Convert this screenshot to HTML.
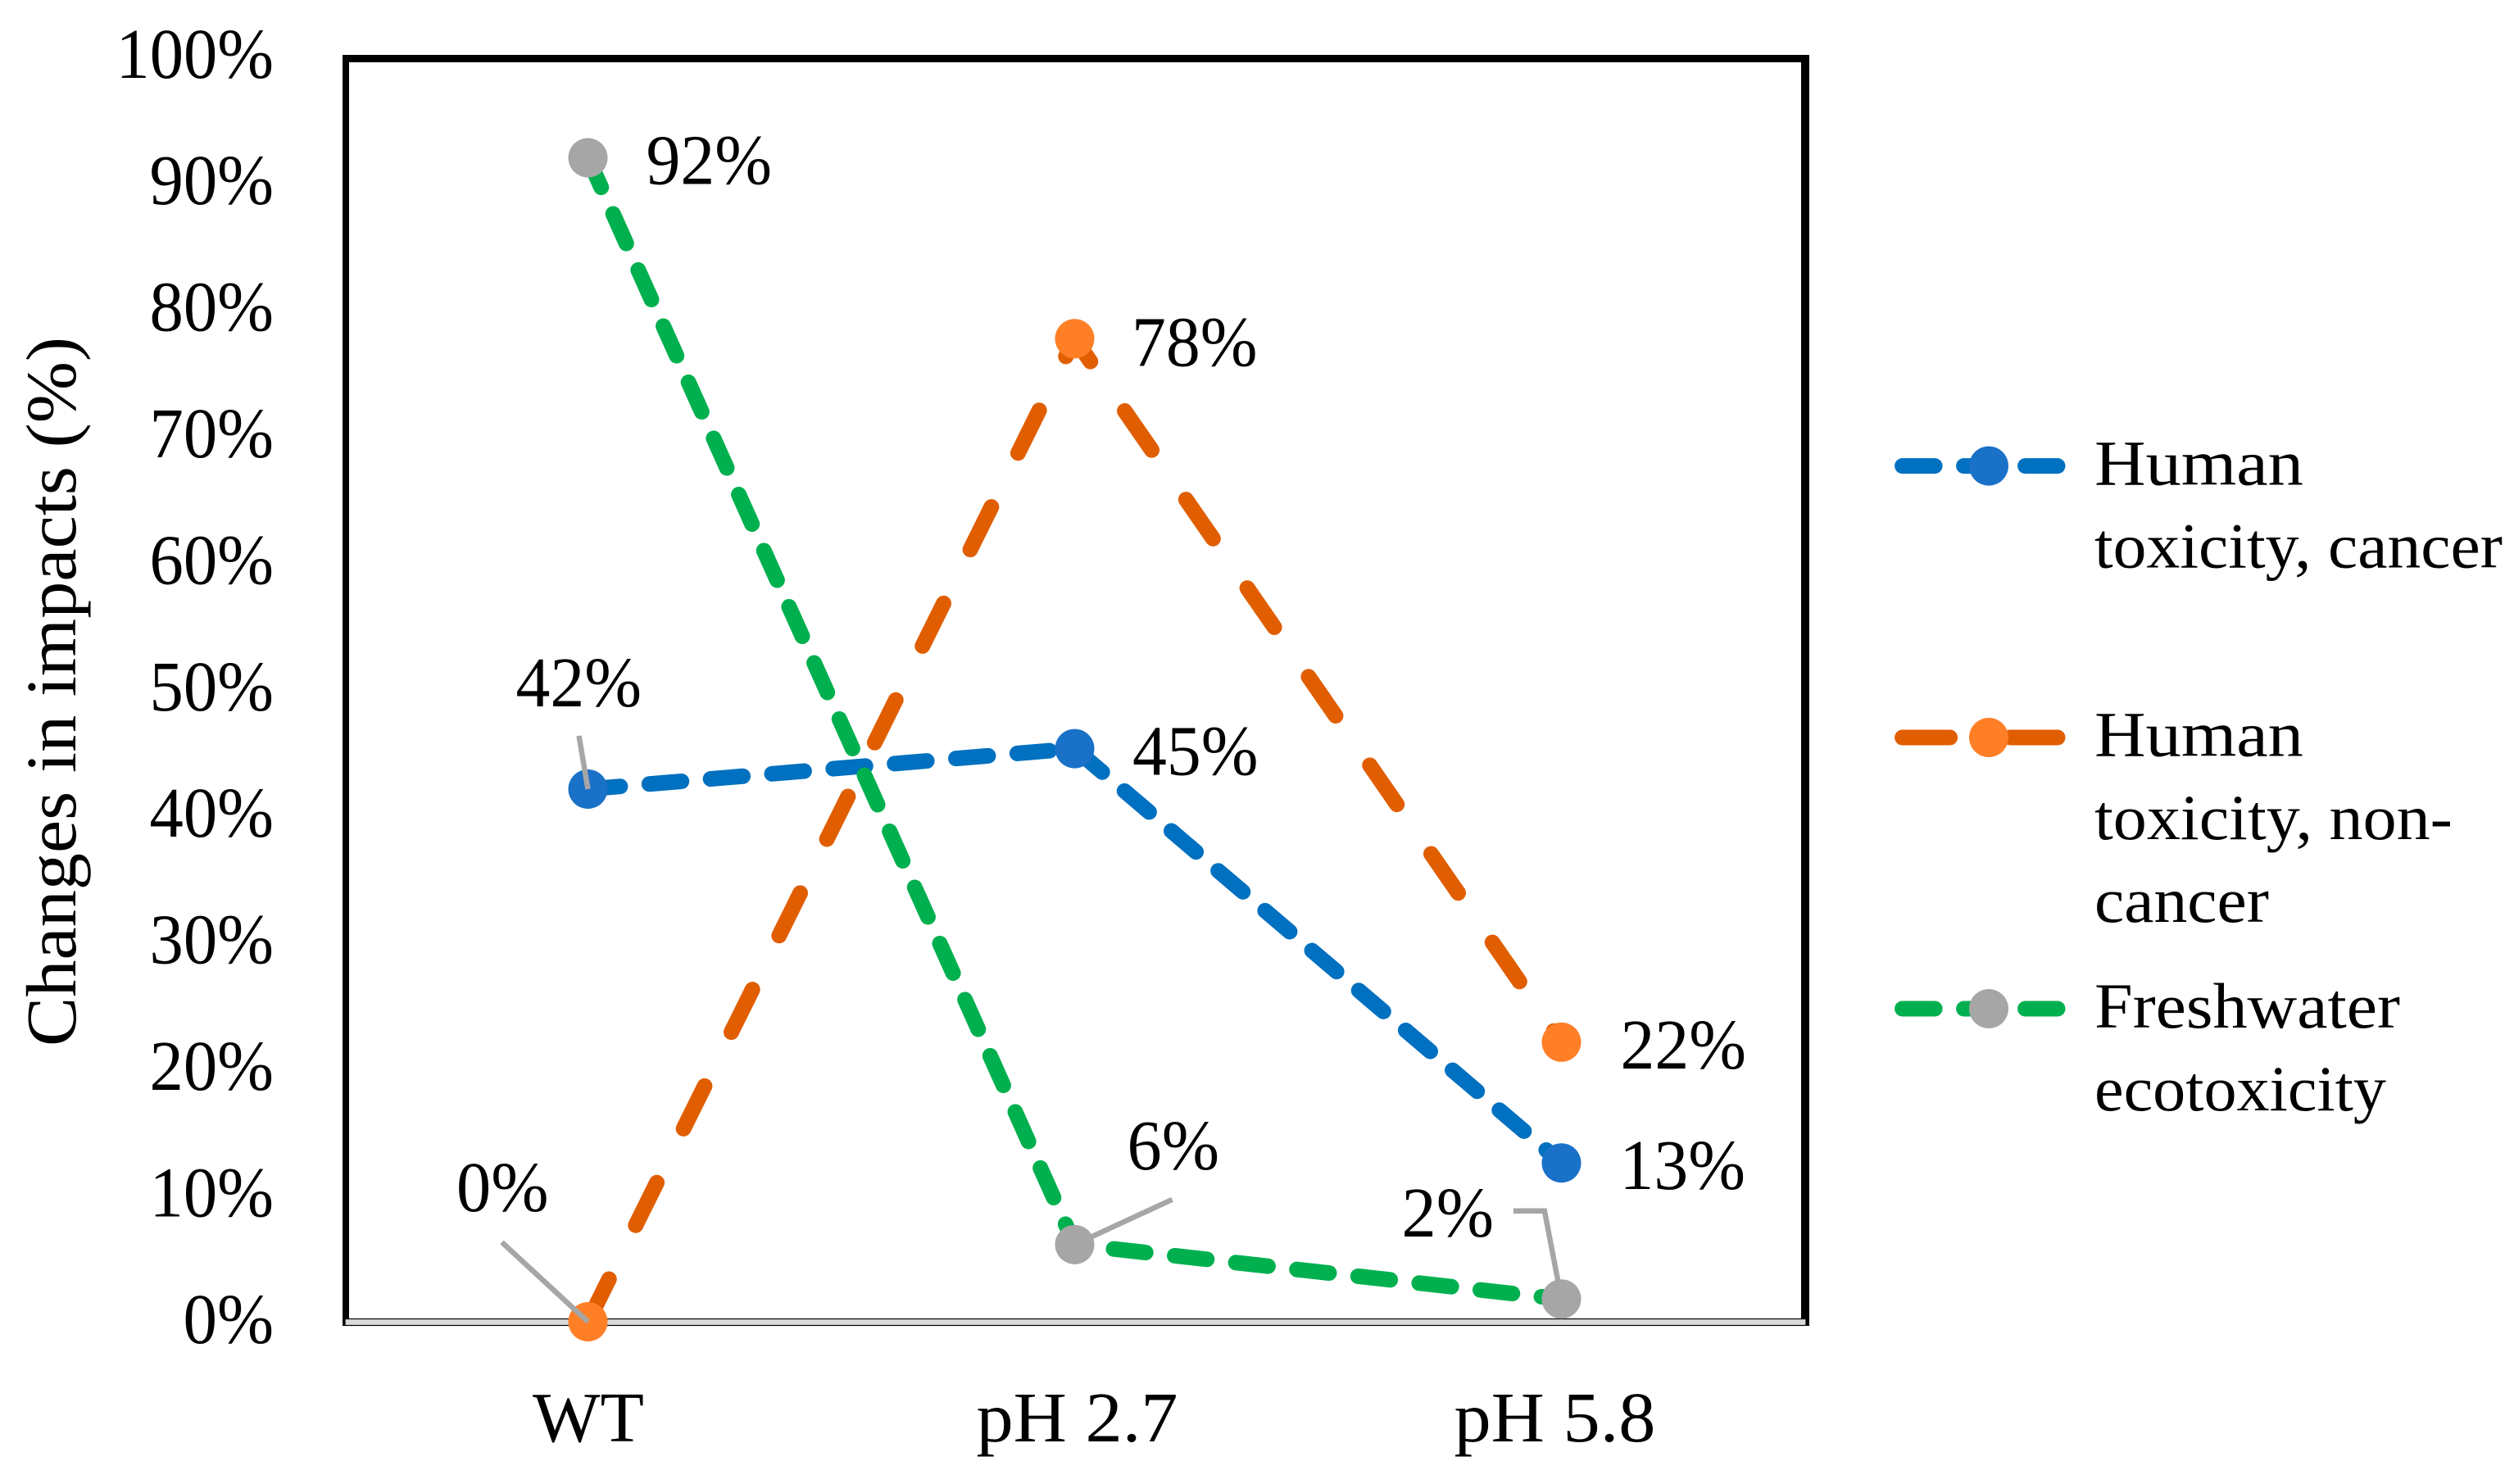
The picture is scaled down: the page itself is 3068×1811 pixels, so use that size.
<!DOCTYPE html>
<html lang="en">
<head>
<meta charset="utf-8">
<title>Changes in impacts chart</title>
<style>
html,body{margin:0;padding:0;background:#fff}
svg{display:block}
text{font-family:"Liberation Serif",serif;fill:#000}
</style>
</head>
<body>
<svg id="chart" xmlns="http://www.w3.org/2000/svg" width="3068" height="1811" viewBox="0 0 3068 1811">
  <rect x="0" y="0" width="3068" height="1811" fill="#fff"/>
  <g>
    <rect x="418" y="67" width="1790" height="9" fill="#000"/>
    <rect x="418" y="67" width="8" height="1551" fill="#000"/>
    <rect x="2198" y="67" width="10" height="1551" fill="#000"/>
    <rect x="421" y="1609.5" width="1783" height="8" fill="#d9d9d9" stroke="#000" stroke-width="1.2"/>
  </g>
  <text font-size="87" textLength="866" lengthAdjust="spacingAndGlyphs" transform="translate(92 1277) rotate(-90)">Changes in impacts (%)</text>
  <g id="ticks"></g>
  <g id="series"></g>
  <g id="markers"></g>
  <g id="leaders"></g>
  <g id="labels"></g>
  <g>
    <g>
      <line x1="2321.6" x2="2511" y1="568.6" y2="568.6" stroke="#0070c0" stroke-width="19" stroke-linecap="round" stroke-dasharray="39.5 35.5"/>
      <circle cx="2427" cy="568.6" r="24" fill="#1a71c8"/>
      <text x="2556" y="591.5" font-size="78" textLength="255" lengthAdjust="spacingAndGlyphs">Human</text>
      <text x="2556" y="692.5" font-size="78" textLength="498" lengthAdjust="spacingAndGlyphs">toxicity, cancer</text>
    </g>
    <g>
      <line x1="2321.6" x2="2511" y1="900" y2="900" stroke="#e05e00" stroke-width="19" stroke-linecap="round" stroke-dasharray="58 73.6"/>
      <circle cx="2427" cy="900" r="24" fill="#ff7f27"/>
      <text x="2556" y="922.5" font-size="78" textLength="255" lengthAdjust="spacingAndGlyphs">Human</text>
      <text x="2556" y="1024" font-size="78" textLength="437" lengthAdjust="spacingAndGlyphs">toxicity, non-</text>
      <text x="2556" y="1125" font-size="78" textLength="213" lengthAdjust="spacingAndGlyphs">cancer</text>
    </g>
    <g>
      <line x1="2321.6" x2="2511" y1="1231" y2="1231" stroke="#00b04f" stroke-width="19" stroke-linecap="round" stroke-dasharray="39.5 35.5"/>
      <circle cx="2427" cy="1231" r="24" fill="#a6a6a6"/>
      <text x="2556" y="1254" font-size="78" textLength="373" lengthAdjust="spacingAndGlyphs">Freshwater</text>
      <text x="2556" y="1355" font-size="78" textLength="356" lengthAdjust="spacingAndGlyphs">ecotoxicity</text>
    </g>
  </g>
</svg>
<script>
const categories = ['WT', 'pH 2.7', 'pH 5.8'];
const yTickLabels = ['0%', '10%', '20%', '30%', '40%', '50%', '60%', '70%', '80%', '90%', '100%'];
const yTickValues = [0, 10, 20, 30, 40, 50, 60, 70, 80, 90, 100];
const humanToxicityCancer = [42.1, 45.3, 12.55];
const humanToxicityNonCancer = [0, 77.7, 22.1];
const freshwaterEcotoxicity = [92, 6.1, 1.8];

const NS = 'http://www.w3.org/2000/svg';
function xScale(i) { return 717.5 + 594 * i; }
function yScale(v) { return 1613 - 15.44 * v; }
function make(tag, parentId) {
  const el = document.createElementNS(NS, tag);
  document.getElementById(parentId).appendChild(el);
  return el;
}
function setAll(el, props) {
  Object.keys(props).forEach(function (k) { el.setAttribute(k, props[k]); });
}
function labelWidth(str) {
  const digits = str.replace(/[^0-9]/g, '').length;
  return 66.5 + 41 * digits;
}

yTickValues.forEach(function (v, i) {
  const el = make('text', 'ticks');
  
  
  const w = labelWidth(yTickLabels[i]);
  setAll(el, { x: 333 - w - 2, y: yScale(v) + 25.8, 'font-size': 87, textLength: w + 3, lengthAdjust: 'spacingAndGlyphs' });
  el.textContent = yTickLabels[i];
});

function categoryLabelWidth(i) { return i === 0 ? 136 : 246; }
categories.forEach(function (c, i) {
  const el = make('text', 'ticks');
  
  
  const w = categoryLabelWidth(i);
  const shift = i === 0 ? 0.5 : (i === 1 ? 3 : -8);
  setAll(el, { x: xScale(i) - w / 2 + shift, y: 1759, 'font-size': 87, textLength: w, lengthAdjust: 'spacingAndGlyphs' });
  el.textContent = c;
});

function drawSeries(values, name, lineColor, markerColor, dash, labelOff, leaderOff) {
  const pts = values.map(function (v, i) { return xScale(i) + ',' + yScale(v); }).join(' ');
  const line = make('polyline', 'series');
  
  
  setAll(line, { points: pts, fill: 'none', stroke: lineColor, 'stroke-width': 19, 'stroke-linecap': 'round', 'stroke-linejoin': 'round', 'stroke-dasharray': dash, 'data-series': name });

  values.forEach(function (v, i) {
    const px = xScale(i), py = yScale(v);
    const m = make('circle', 'markers');
    
    
    setAll(m, { cx: px, cy: py, r: 24, fill: markerColor, 'data-series': name });

    const str = Math.round(v) + '%';
    const t = make('text', 'labels');
    
    
    const w = labelWidth(str);
    setAll(t, { x: px + labelOff[i][0] - 1, y: py + labelOff[i][1], 'font-size': 87, textLength: w + 5, lengthAdjust: 'spacingAndGlyphs' });
    t.textContent = str;

    if (leaderOff[i]) {
      const l = make('polyline', 'leaders');
      
      
      const lp = leaderOff[i].map(function (o) { return (px + o[0]) + ',' + (py + o[1]); }).join(' ');
      setAll(l, { points: lp, fill: 'none', stroke: '#a6a6a6', 'stroke-width': 6.5, 'stroke-linejoin': 'miter' });
    }
  });
}

drawSeries(humanToxicityCancer, 'human-toxicity-cancer', '#0070c0', '#1a71c8', '39.5 35.6',
  [[-87, -101], [71.5, 32], [72, 31.6]],
  [[[-11, -65], [0, 0]], null, null]);
drawSeries(humanToxicityNonCancer, 'human-toxicity-non-cancer', '#e05e00', '#ff7f27', '58 73.45',
  [[-159.5, -135], [70.5, 33], [73, 32]],
  [[[-105, -97], [0, 0]], null, null]);
drawSeries(freshwaterEcotoxicity, 'freshwater-ecotoxicity', '#00b04f', '#a6a6a6', '39.5 35.55',
  [[72, 32], [65, -92], [-194, -76]],
  [null, [[119, -55], [0, 0]], [[-58.6, -107.5], [-20.6, -107.5], [0, 0]]]);
</script>
</body>
</html>
